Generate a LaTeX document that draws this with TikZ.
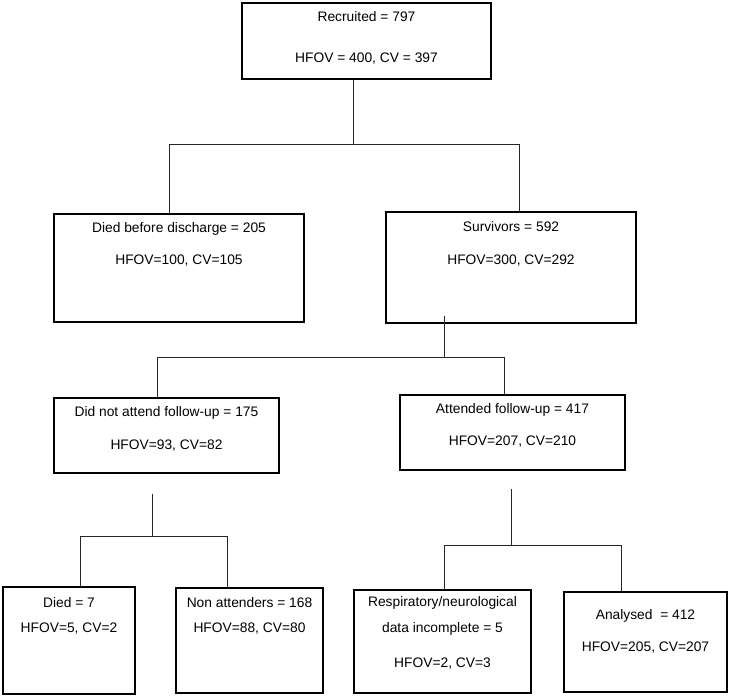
\documentclass[tikz,border=0pt]{standalone}
\usepackage{fontspec}
\setmainfont{Liberation Sans}

\begin{document}
\begin{tikzpicture}[x=1pt, y=-1pt,
  box/.style={rectangle, draw=black, line width=1.3pt, fill=white, inner sep=0pt},
  lbl/.style={anchor=north, align=center, inner sep=0pt,
              font=\fontsize{13.8}{16}\selectfont},
  conn/.style={draw=black!85, line width=0.8pt}
]
\useasboundingbox (0,0) rectangle (730,699);

\node[box, minimum width=249pt, minimum height=76pt,
      label={[lbl, yshift=-9pt]north:{Recruited = 797\\[25pt]HFOV = 400, CV = 397}}]
      (recruited) at (366.5,41) {};
\node[box, minimum width=250pt, minimum height=108pt,
      label={[lbl, yshift=-9pt]north:{Died before discharge = 205\\[16pt]HFOV=100, CV=105}}]
      (died) at (179,268) {};
\node[box, minimum width=250pt, minimum height=111pt,
      label={[lbl, yshift=-10pt]north:{Survivors = 592\\[17pt]HFOV=300, CV=292}}]
      (survivors) at (511,267.5) {};
\node[box, minimum width=225pt, minimum height=75pt,
      label={[lbl, yshift=-9pt]north:{Did not attend follow-up = 175\\[17pt]HFOV=93, CV=82}}]
      (notattend) at (166.5,435.5) {};
\node[box, minimum width=225pt, minimum height=75pt,
      label={[lbl, yshift=-9pt]north:{Attended follow-up = 417\\[16pt]HFOV=207, CV=210}}]
      (attended) at (512.5,432.5) {};
\node[box, minimum width=132pt, minimum height=107pt,
      label={[lbl, yshift=-11pt]north:{Died = 7\\[9pt]HFOV=5, CV=2}}]
      (diedfu) at (69,640.5) {};
\node[box, minimum width=147pt, minimum height=105pt,
      label={[lbl, yshift=-10pt]north:{Non attenders = 168\\[9pt]HFOV=88, CV=80}}]
      (nonattend) at (249.5,640.5) {};
\node[box, minimum width=177pt, minimum height=103pt,
      label={[lbl, yshift=-7pt]north:{Respiratory/neurological\\[10pt]data incomplete = 5\\[19pt]HFOV=2, CV=3}}]
      (incomplete) at (442.5,641.5) {};
\node[box, minimum width=163pt, minimum height=100pt,
      label={[lbl, yshift=-18pt]north:{Analysed~ = 412\\[16pt]HFOV=205, CV=207}}]
      (analysed) at (645.5,642) {};

\coordinate (split1) at (353,144);
\coordinate (split1l) at (169,144);
\coordinate (split1r) at (519,144);
\coordinate (split2) at (444,357);
\coordinate (split2l) at (157,357);
\coordinate (split2r) at (504,357);
\coordinate (split3) at (152,536);
\coordinate (split3l) at (80,536);
\coordinate (split3r) at (227,536);
\coordinate (split4) at (511,545);
\coordinate (split4l) at (444,545);
\coordinate (split4r) at (621,545);

\draw[conn] (recruited.south -| split1) -- (split1);
\draw[conn] (died.north -| split1l) |- (split1r) -- (survivors.north -| split1r);
\draw[conn] (survivors.south -| split2) ++(0,-8) -- (split2);
\draw[conn] (notattend.north -| split2l) |- (split2r) -- (attended.north -| split2r);
\draw[conn] (notattend.south -| split3) ++(0,20) -- (split3);
\draw[conn] (diedfu.north -| split3l) |- (split3r) -- (nonattend.north -| split3r);
\draw[conn] (attended.south -| split4) ++(0,18) -- (split4);
\draw[conn] (incomplete.north -| split4l) |- (split4r) -- (analysed.north -| split4r);
\end{tikzpicture}
\end{document}
